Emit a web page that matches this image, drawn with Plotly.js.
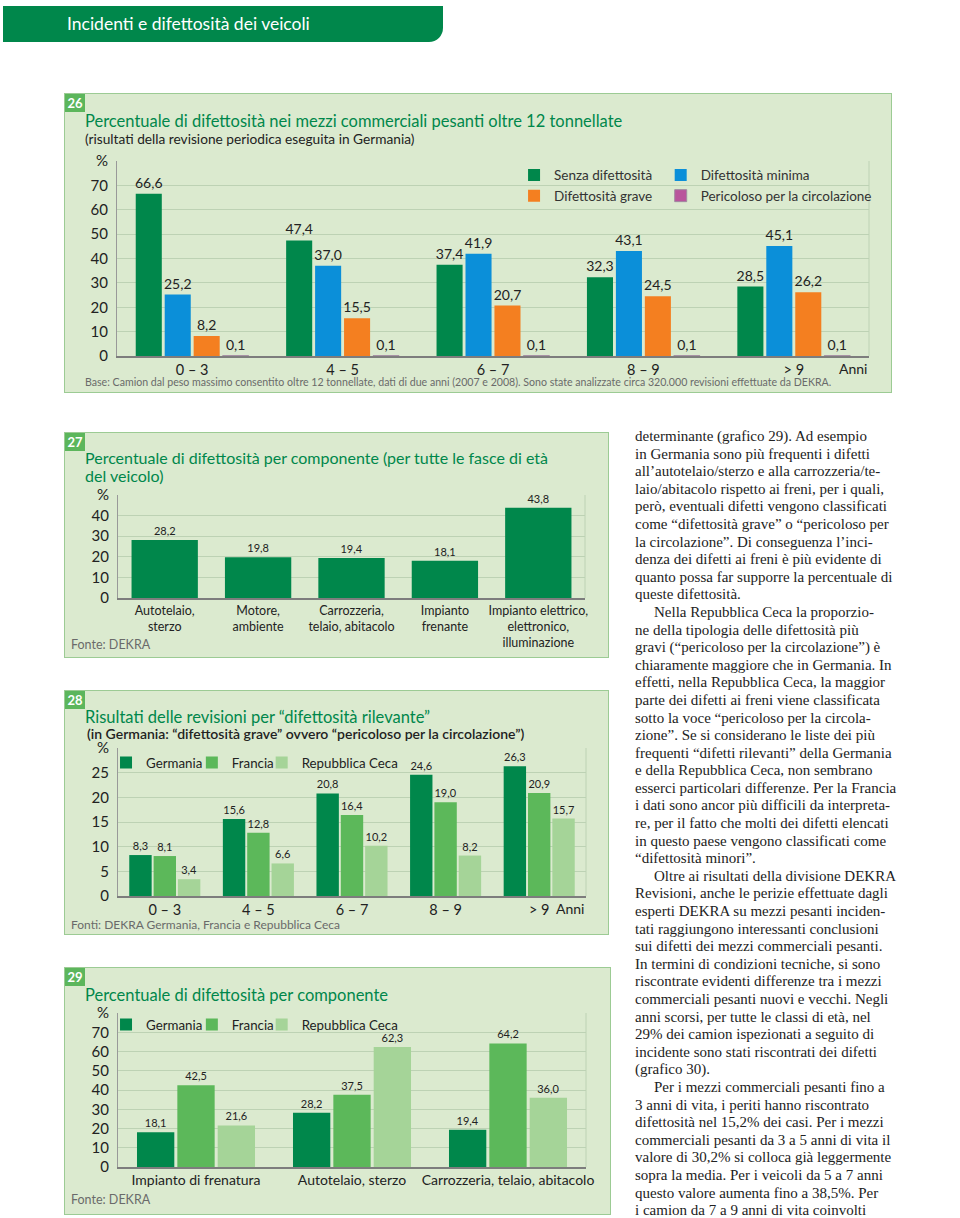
<!DOCTYPE html>
<html>
<head>
<meta charset="utf-8">
<script src="https://cdn.plot.ly/plotly-3.0.1.min.js"></script>
<style>
  html,body{margin:0;padding:0;background:#fff;}
  body{width:960px;height:1218px;position:relative;overflow:hidden;font-family:Lato,"Open Sans",sans-serif;}
  .hdr{position:absolute;left:3px;top:6px;width:440px;height:36px;background:#00874b;border-bottom-right-radius:14px;}
  .hdr span{position:absolute;left:64px;top:7px;color:#fff;font-size:17.5px;white-space:nowrap;}
  .box{position:absolute;background:#dbeacf;border:1.5px solid #9ccb94;box-sizing:border-box;}
  .num{position:absolute;left:0;top:0;width:20px;height:18px;background:#5cb65c;color:#fff;font-size:13px;font-weight:bold;line-height:18px;text-align:center;}
  .ttl{position:absolute;color:#00874b;font-size:16.5px;white-space:nowrap;line-height:18px;}
  .sub{position:absolute;color:#222;font-size:13.7px;white-space:nowrap;}
  .src{position:absolute;color:#6a6a6a;font-size:12px;white-space:nowrap;}
  .plot{position:absolute;left:0;top:0;}
  .txt{position:absolute;left:635px;top:428px;width:300px;font-family:"Liberation Serif","DejaVu Serif",serif;font-size:15px;line-height:17.6px;color:#222;white-space:nowrap;}
  .txt .in{padding-left:19px;}
</style>
</head>
<body>
<div class="hdr"><span>Incidenti e difettosità dei veicoli</span></div>

<div class="box" id="b26" style="left:64px;top:93px;width:828px;height:300px;">
  <div class="plot" id="c26"></div>
  <div class="num">26</div>
  <div class="ttl" style="left:20px;top:18px;">Percentuale di difettosità nei mezzi commerciali pesanti oltre 12 tonnellate</div>
  <div class="sub" style="left:20px;top:36px;">(risultati della revisione periodica eseguita in Germania)</div>
  <div class="src" style="left:20px;top:282px;font-size:10.6px;">Base: Camion dal peso massimo consentito oltre 12 tonnellate, dati di due anni (2007 e 2008). Sono state analizzate circa 320.000 revisioni effettuate da DEKRA.</div>
</div>

<div class="box" id="b27" style="left:64px;top:432px;width:545px;height:226px;">
  <div class="plot" id="c27"></div>
  <div class="num">27</div>
  <div class="ttl" style="left:20px;top:16px;font-size:16px;">Percentuale di difettosità per componente (per tutte le fasce di età<br>del veicolo)</div>
  <div class="src" style="left:6px;top:204px;font-size:12.5px;">Fonte: DEKRA</div>
</div>

<div class="box" id="b28" style="left:64px;top:690px;width:545px;height:245px;">
  <div class="plot" id="c28"></div>
  <div class="num">28</div>
  <div class="ttl" style="left:20px;top:17px;">Risultati delle revisioni per “difettosità rilevante”</div>
  <div class="sub" style="left:22px;top:36px;font-size:14px;line-height:14px;font-weight:600;">(in Germania: “difettosità grave” ovvero “pericoloso per la circolazione”)</div>
  <div class="src" style="left:6px;top:226px;">Fonti: DEKRA Germania, Francia e Repubblica Ceca</div>
</div>

<div class="box" id="b29" style="left:64px;top:967px;width:547px;height:248px;">
  <div class="plot" id="c29"></div>
  <div class="num">29</div>
  <div class="ttl" style="left:20px;top:18px;">Percentuale di difettosità per componente</div>
  <div class="src" style="left:6px;top:224px;font-size:12.5px;">Fonte: DEKRA</div>
</div>

<div class="txt">
<div>determinante (grafico 29). Ad esempio</div>
<div>in Germania sono più frequenti i difetti</div>
<div>all’autotelaio/sterzo e alla carrozzeria/te-</div>
<div>laio/abitacolo rispetto ai freni, per i quali,</div>
<div>però, eventuali difetti vengono classificati</div>
<div>come “difettosità grave” o “pericoloso per</div>
<div>la circolazione”. Di conseguenza l’inci-</div>
<div>denza dei difetti ai freni è più evidente di</div>
<div>quanto possa far supporre la percentuale di</div>
<div>queste difettosità.</div>
<div class="in">Nella Repubblica Ceca la proporzio-</div>
<div>ne della tipologia delle difettosità più</div>
<div>gravi (“pericoloso per la circolazione”) è</div>
<div>chiaramente maggiore che in Germania. In</div>
<div>effetti, nella Repubblica Ceca, la maggior</div>
<div>parte dei difetti ai freni viene classificata</div>
<div>sotto la voce “pericoloso per la circola-</div>
<div>zione”. Se si considerano le liste dei più</div>
<div>frequenti “difetti rilevanti” della Germania</div>
<div>e della Repubblica Ceca, non sembrano</div>
<div>esserci particolari differenze. Per la Francia</div>
<div>i dati sono ancor più difficili da interpreta-</div>
<div>re, per il fatto che molti dei difetti elencati</div>
<div>in questo paese vengono classificati come</div>
<div>“difettosità minori”.</div>
<div class="in">Oltre ai risultati della divisione DEKRA</div>
<div>Revisioni, anche le perizie effettuate dagli</div>
<div>esperti DEKRA su mezzi pesanti inciden-</div>
<div>tati raggiungono interessanti conclusioni</div>
<div>sui difetti dei mezzi commerciali pesanti.</div>
<div>In termini di condizioni tecniche, si sono</div>
<div>riscontrate evidenti differenze tra i mezzi</div>
<div>commerciali pesanti nuovi e vecchi. Negli</div>
<div>anni scorsi, per tutte le classi di età, nel</div>
<div>29% dei camion ispezionati a seguito di</div>
<div>incidente sono stati riscontrati dei difetti</div>
<div>(grafico 30).</div>
<div class="in">Per i mezzi commerciali pesanti fino a</div>
<div>3 anni di vita, i periti hanno riscontrato</div>
<div>difettosità nel 15,2% dei casi. Per i mezzi</div>
<div>commerciali pesanti da 3 a 5 anni di vita il</div>
<div>valore di 30,2% si colloca già leggermente</div>
<div>sopra la media. Per i veicoli da 5 a 7 anni</div>
<div>questo valore aumenta fino a 38,5%. Per</div>
<div>i camion da 7 a 9 anni di vita coinvolti</div>
</div>

<script>
// ---------- DATA ----------
const ageClasses = ['0 – 3', '4 – 5', '6 – 7', '8 – 9', '> 9'];

// Chart 26
const c26Names = ['Senza difettosità', 'Difettosità minima', 'Difettosità grave', 'Pericoloso per la circolazione'];
const c26Senza = [66.6, 47.4, 37.4, 32.3, 28.5];
const c26Minima = [25.2, 37.0, 41.9, 43.1, 45.1];
const c26Grave = [8.2, 15.5, 20.7, 24.5, 26.2];
const c26Pericoloso = [0.1, 0.1, 0.1, 0.1, 0.1];
const c26TickVals = [0, 10, 20, 30, 40, 50, 60, 70, 80];
const c26TickText = ['0', '10', '20', '30', '40', '50', '60', '70', '%'];

// Chart 27
const c27Components = ['Autotelaio,<br>sterzo', 'Motore,<br>ambiente', 'Carrozzeria,<br>telaio, abitacolo', 'Impianto<br>frenante', 'Impianto elettrico,<br>elettronico,<br>illuminazione'];
const c27Values = [28.2, 19.8, 19.4, 18.1, 43.8];
const c27TickVals = [0, 10, 20, 30, 40, 50];
const c27TickText = ['0', '10', '20', '30', '40', '%'];

// Chart 28
const countries = ['Germania', 'Francia', 'Repubblica Ceca'];
const c28Germania = [8.3, 15.6, 20.8, 24.6, 26.3];
const c28Francia = [8.1, 12.8, 16.4, 19.0, 20.9];
const c28Ceca = [3.4, 6.6, 10.2, 8.2, 15.7];
const c28TickVals = [0, 5, 10, 15, 20, 25, 30];
const c28TickText = ['0', '5', '10', '15', '20', '25', '%'];

// Chart 29
const c29Components = ['Impianto di frenatura', 'Autotelaio, sterzo', 'Carrozzeria, telaio, abitacolo'];
const c29Germania = [18.1, 28.2, 19.4];
const c29Francia = [42.5, 37.5, 64.2];
const c29Ceca = [21.6, 62.3, 36.0];
const c29TickVals = [0, 10, 20, 30, 40, 50, 60, 70, 80];
const c29TickText = ['0', '10', '20', '30', '40', '50', '60', '70', '%'];

// ---------- STYLE ----------
const FONT = 'Lato, "Open Sans", sans-serif';
const GRID = '#bdd2b4';
const DKGREEN = '#00874b', BLUE = '#0b8fd9', ORANGE = '#f47f20', PURPLE = '#b9559c';
const MIDGREEN = '#5cb85a', LTGREEN = '#a5d498';
const cfg = {staticPlot: true, displayModeBar: false};

function axes(range, tv, tt, tickSize) {
  return {
    xaxis: {type: 'category', showgrid: false, showline: true, linecolor: '#7d7d7d', linewidth: 1.5,
            ticks: '', tickfont: {family: FONT, size: tickSize, color: '#222'}, fixedrange: true},
    yaxis: {range: range, tickvals: tv, ticktext: tt, showline: true, linecolor: '#999', linewidth: 1,
            gridcolor: GRID, gridwidth: 1, zeroline: false, ticks: '', ticklabelstandoff: 5,
            tickfont: {family: FONT, size: 15, color: '#222'}, fixedrange: true}
  };
}
function rightEdge() {
  return {type: 'line', xref: 'paper', yref: 'paper', x0: 1, x1: 1, y0: 0, y1: 1, line: {color: GRID, width: 1}};
}
function anni() {
  return {xref: 'paper', yref: 'paper', x: 1, y: 0, xanchor: 'right', yanchor: 'top', yshift: -2,
          text: 'Anni', showarrow: false, font: {family: FONT, size: 14, color: '#222'}};
}
function barTrace(x, y, name, color, fsize, extra) {
  return Object.assign({
    type: 'bar', x: x, y: y, name: name, marker: {color: color},
    texttemplate: '%{y:.1f}', textposition: 'outside', constraintext: 'none', cliponaxis: false,
    textfont: {family: FONT, size: fsize, color: '#222'}, hoverinfo: 'skip'
  }, extra || {});
}
// one single-entry legend per country so the entries sit where the reference puts them
function countryLegends(y) {
  const xs = [-0.0256, 0.1578, 0.307];
  const out = {showlegend: true};
  ['legend', 'legend2', 'legend3'].forEach(function (k, i) {
    out[k] = {x: xs[i], y: y, xanchor: 'left', yanchor: 'top', orientation: 'v', bgcolor: 'rgba(0,0,0,0)',
              font: {family: FONT, size: 13.3, color: '#222'}, itemwidth: 30, visible: true};
  });
  return out;
}

// ---------- CHART 26 ----------
(function () {
  const traces = [
    barTrace(ageClasses, c26Senza, c26Names[0], DKGREEN, 14, {legend: 'legend'}),
    barTrace(ageClasses, c26Minima, c26Names[1], BLUE, 14, {legend: 'legend2'}),
    barTrace(ageClasses, c26Grave, c26Names[2], ORANGE, 14, {legend: 'legend'}),
    barTrace(ageClasses, c26Pericoloso, c26Names[3], PURPLE, 14, {legend: 'legend2', marker: {color: PURPLE, line: {color: '#a08aa0', width: 1}}})
  ];
  const lay = Object.assign({
    width: 825, height: 297, margin: {l: 51.5, r: 20.5, t: 66.5, b: 34.5},
    paper_bgcolor: 'rgba(0,0,0,0)', plot_bgcolor: 'rgba(0,0,0,0)',
    separators: ',.', barmode: 'group', bargap: 0.23, bargroupgap: 0.1,
    font: {family: FONT, color: '#222'}, showlegend: true,
    legend: {x: 0.528, y: 1.006, xanchor: 'left', yanchor: 'top', orientation: 'v', bgcolor: 'rgba(0,0,0,0)',
             font: {family: FONT, size: 13.5, color: '#333'}, tracegroupgap: 0, itemwidth: 30},
    legend2: {x: 0.723, y: 1.006, xanchor: 'left', yanchor: 'top', orientation: 'v', bgcolor: 'rgba(0,0,0,0)',
             font: {family: FONT, size: 13.5, color: '#333'}, tracegroupgap: 0, itemwidth: 30},
    shapes: [rightEdge()], annotations: [anni()]
  }, axes([0, 80], c26TickVals, c26TickText, 14.5));
  Plotly.newPlot('c26', traces, lay, cfg);
})();

// ---------- CHART 27 ----------
(function () {
  const traces = [barTrace(c27Components, c27Values, '', DKGREEN, 11, {showlegend: false})];
  const ax = axes([0, 50], c27TickVals, c27TickText, 12.5);
  const lay = Object.assign({
    width: 542, height: 223, margin: {l: 52.5, r: 21.5, t: 61.5, b: 57.5},
    paper_bgcolor: 'rgba(0,0,0,0)', plot_bgcolor: 'rgba(0,0,0,0)',
    separators: ',.', bargap: 0.29, font: {family: FONT, color: '#222'}, showlegend: false,
    shapes: [rightEdge()]
  }, ax);
  Plotly.newPlot('c27', traces, lay, cfg);
})();

// ---------- CHART 28 ----------
(function () {
  const traces = [
    barTrace(ageClasses, c28Germania, countries[0], DKGREEN, 11, {legend: 'legend', showlegend: true}),
    barTrace(ageClasses, c28Francia, countries[1], MIDGREEN, 11, {legend: 'legend2', showlegend: true}),
    barTrace(ageClasses, c28Ceca, countries[2], LTGREEN, 11, {legend: 'legend3', showlegend: true})
  ];
  const lay = Object.assign({
    width: 542, height: 242, margin: {l: 52.5, r: 20.5, t: 56.5, b: 36.5},
    paper_bgcolor: 'rgba(0,0,0,0)', plot_bgcolor: 'rgba(0,0,0,0)',
    separators: ',.', barmode: 'group', bargap: 0.22, bargroupgap: 0.08,
    font: {family: FONT, color: '#222'},
    shapes: [rightEdge()], annotations: [anni()]
  }, axes([0, 30], c28TickVals, c28TickText, 14.5), countryLegends(1.004));
  Plotly.newPlot('c28', traces, lay, cfg);
})();

// ---------- CHART 29 ----------
(function () {
  const traces = [
    barTrace(c29Components, c29Germania, countries[0], DKGREEN, 11, {legend: 'legend', showlegend: true}),
    barTrace(c29Components, c29Francia, countries[1], MIDGREEN, 11, {legend: 'legend2', showlegend: true}),
    barTrace(c29Components, c29Ceca, countries[2], LTGREEN, 11, {legend: 'legend3', showlegend: true})
  ];
  const lay = Object.assign({
    width: 544, height: 245, margin: {l: 52.5, r: 22.5, t: 44.5, b: 45.5},
    paper_bgcolor: 'rgba(0,0,0,0)', plot_bgcolor: 'rgba(0,0,0,0)',
    separators: ',.', barmode: 'group', bargap: 0.224, bargroupgap: 0.075,
    font: {family: FONT, color: '#222'},
    shapes: [rightEdge()]
  }, axes([0, 80], c29TickVals, c29TickText, 14), countryLegends(1.024));
  Plotly.newPlot('c29', traces, lay, cfg);
})();
</script>
</body>
</html>
